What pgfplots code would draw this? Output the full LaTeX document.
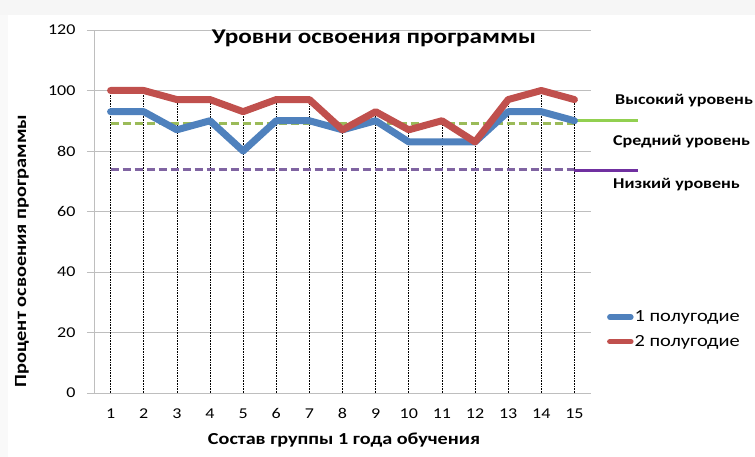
\documentclass[border=0pt]{standalone}
\usepackage{fontspec}
\setmainfont{Carlito}[FakeStretch=1.2]
\usepackage{pgfplots}
\pgfplotsset{compat=1.18}
\definecolor{sblue}{RGB}{79,129,189}
\definecolor{sred}{RGB}{192,80,77}
\definecolor{sgreen}{RGB}{155,187,89}
\definecolor{sgreen2}{RGB}{146,208,80}
\definecolor{spurple}{RGB}{128,100,162}
\definecolor{spurple2}{RGB}{112,48,160}
\definecolor{gridc}{RGB}{190,190,190}
\begin{document}
\begin{tikzpicture}[x=1pt,y=1pt]
\useasboundingbox (0,0) rectangle (755,457);
\fill[gray!7] (0,442) rectangle (755,457);
\fill[gray!5] (0,0) rectangle (8,442);
\begin{axis}[
  at={(94pt,64pt)}, anchor=south west,
  scale only axis, width=497pt, height=363pt,
  xmin=0.5, xmax=15.5, ymin=0, ymax=120,
  xtick={1,...,15}, ytick={0,20,...,120},
  ymajorgrids, grid style={gridc, line width=0.8pt},
  axis x line*=bottom, axis y line*=left,
  axis line style={gridc, line width=0.8pt, -},
  x tick style={draw=none},
  y tick style={gridc, line width=0.8pt},
  tick align=outside, major tick length=7pt,
  clip=false,
  tick label style={font=\fontsize{15}{18}\selectfont},
  yticklabel style={xshift=-8pt},
  xticklabel style={yshift=-5pt},
  /pgf/number format/assume math mode=true,
  legend cell align=left,
  legend style={draw=none, fill=none, at={(1.032,0.232)}, anchor=north west,
    font=\fontsize{17}{20}\selectfont, row sep=8pt, inner xsep=0pt, inner ysep=0pt,
    nodes={inner xsep=1pt}},
  legend image code/.code={\draw[#1, line width=5.5pt, line cap=round] (3pt,0pt) -- (24pt,0pt);},
]
\addplot[ycomb, black, densely dotted, line width=0.6pt, mark=none, forget plot]
  coordinates {(1,100)(2,100)(3,97)(4,97)(5,93)(6,97)(7,97)(8,87)(9,93)(10,87)(11,90)(12,83)(13,97)(14,100)(15,97)};
\addplot[sgreen, line width=3pt, dash pattern=on 8pt off 4pt, forget plot]
  coordinates {(1,89)(15,89)};
\addplot[spurple, line width=3pt, dash pattern=on 8pt off 4pt, forget plot]
  coordinates {(1,74)(15,74)};
\addplot[sgreen2, line width=3.5pt, forget plot] coordinates {(15,90)(16.93,90)};
\addplot[spurple2, line width=3.5pt, forget plot] coordinates {(15,73.5)(16.93,73.5)};
\addplot[sblue, line width=7pt, line join=round, line cap=round, mark=none]
  coordinates {(1,93)(2,93)(3,87)(4,90)(5,80)(6,90)(7,90)(8,87)(9,90)(10,83)(11,83)(12,83)(13,93)(14,93)(15,90)};
\addlegendentry{1 полугодие}
\addplot[sred, line width=7pt, line join=round, line cap=round, mark=none]
  coordinates {(1,100)(2,100)(3,97)(4,97)(5,93)(6,97)(7,97)(8,87)(9,93)(10,87)(11,90)(12,83)(13,97)(14,100)(15,97)};
\addlegendentry{2 полугодие}
\end{axis}
\node[font=\fontsize{21}{25}\selectfont\bfseries] at (374,419) {Уровни освоения программы};
\node[font=\fontsize{17}{20}\selectfont\bfseries, rotate=90] at (22,206) {Процент освоения программы};
\node[font=\fontsize{16.8}{20}\selectfont\bfseries] at (344,17) {Состав группы 1 года обучения};
\node[font=\fontsize{15}{18}\selectfont\bfseries, anchor=west, inner sep=0pt] at (615,356) {Высокий уровень};
\node[font=\fontsize{15}{18}\selectfont\bfseries, anchor=west, inner sep=0pt] at (613,315) {Средний уровень};
\node[font=\fontsize{15}{18}\selectfont\bfseries, anchor=west, inner sep=0pt] at (613,272) {Низкий уровень};
\end{tikzpicture}
\end{document}
